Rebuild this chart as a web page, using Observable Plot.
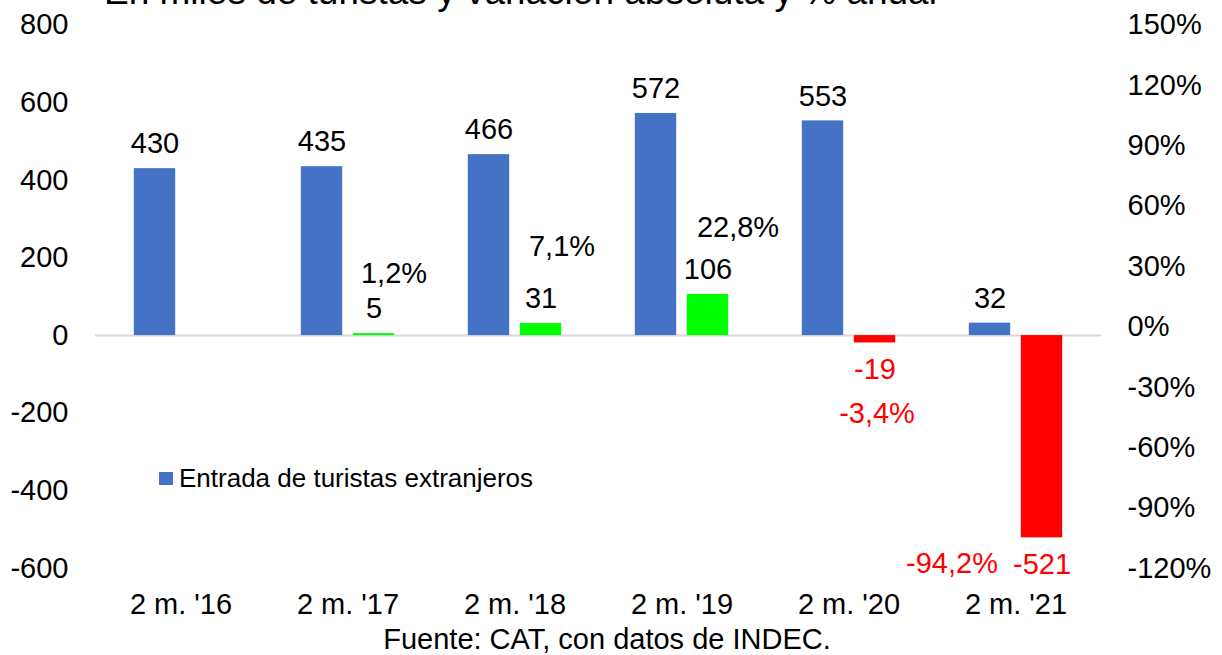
<!DOCTYPE html>
<html>
<head>
<meta charset="utf-8">
<script src="https://cdn.jsdelivr.net/npm/d3@7"></script>
<script src="https://cdn.jsdelivr.net/npm/@observablehq/plot@0.6"></script>
<style>
html, body { margin: 0; padding: 0; background: #fff; overflow: hidden; }
#wrap { position: relative; width: 1222px; height: 655px; font-family: "Liberation Sans", Arial, sans-serif; color: #000; }
#wrap svg { position: absolute; left: 0; top: 0; }
#title { position: absolute; left: 104px; top: -27px; font-size: 37px; line-height: 37px; white-space: nowrap; }
#legend { position: absolute; left: 159px; top: 465px; height: 26px; display: flex; align-items: center; font-size: 26px; line-height: 26px; white-space: nowrap; }
#legend .sw { width: 14px; height: 13px; background: #4472C4; margin-right: 6px; }
#caption { position: absolute; left: 607px; top: 625px; transform: translateX(-50%); font-size: 29px; line-height: 29px; white-space: nowrap; }
</style>
</head>
<body>
<div id="wrap">
  <div id="chart"></div>
  <div id="title">En miles de turistas y variación absoluta y % anual</div>
  <div id="legend"><span class="sw"></span><span>Entrada de turistas extranjeros</span></div>
  <div id="caption">Fuente: CAT, con datos de INDEC.</div>
</div>
<script>
// ---- data ----
const categories = ["2 m. '16", "2 m. '17", "2 m. '18", "2 m. '19", "2 m. '20", "2 m. '21"];
const tourists = [430, 435, 466, 572, 553, 32];
const variation = [null, 5, 31, 106, -19, -521];
const pctLabels = [null, "1,2%", "7,1%", "22,8%", "-3,4%", "-94,2%"];
// where each % label sits (left-axis units) and its horizontal shift
const pctAnchor = [null, 160, 230, 279, -201, -587];
const pctShift = [null, 46, 47, 56, 28, -64];
const leftTicks = [-600, -400, -200, 0, 200, 400, 600, 800];
const rightTicks = [-120, -90, -60, -30, 0, 30, 60, 90, 120, 150];

// ---- derived tables ----
const tData = categories.map((c, i) => ({cat: c, value: tourists[i]}));
const vData = categories.map((c, i) => ({cat: c, value: variation[i]})).filter(d => d.value != null);
const pData = categories.map((c, i) => ({cat: c, label: pctLabels[i], anchor: pctAnchor[i], shift: pctShift[i]})).filter(d => d.label != null);

// right axis (-120%..150%) shares the pixel span of the left axis (-600..800)
const toLeft = v => -600 + (v + 120) * 1400 / 270;
const toRight = u => Math.round((u + 600) * 270 / 1400 - 120);

const FONT = '"Liberation Sans", Arial, sans-serif';
const BLUE = "#4472C4", GREEN = "#00FF00", RED = "#FF0000";

const chart = Plot.plot({
  width: 1222,
  height: 655,
  marginLeft: 95,
  marginRight: 121,
  marginTop: 24.5,
  marginBottom: 87,
  style: {fontFamily: FONT, fontSize: "29px", color: "#000", background: "transparent", overflow: "visible"},
  x: {domain: categories, padding: 0, axis: null},
  y: {domain: [-600, 800], axis: null},
  marks: [
    Plot.ruleY([0], {stroke: "#d9d9d9", strokeWidth: 2}),
    Plot.barY(tData, {x: "cat", y: "value", fill: BLUE, insetLeft: 36.8, insetRight: 88.8}),
    Plot.barY(vData, {x: "cat", y: "value", fill: d => d.value >= 0 ? GREEN : RED, insetLeft: 88.8, insetRight: 36.8}),
    Plot.text(tData, {x: "cat", y: "value", text: d => String(d.value), dx: -26, dy: -24.5, fontSize: 29, fill: "#000"}),
    Plot.text(vData.filter(d => d.value >= 0), {x: "cat", y: "value", text: d => String(d.value), dx: 26, dy: -25, fontSize: 29, fill: "#000"}),
    Plot.text(vData.filter(d => d.value < 0), {x: "cat", y: "value", text: d => String(d.value), dx: 26, dy: 26.5, fontSize: 29, fill: RED}),
    ...pData.map(d => Plot.text([d], {x: "cat", y: "anchor", text: "label", dx: d.shift, fontSize: 29, fill: d.anchor < 0 ? RED : "#000"})),
    Plot.axisY(leftTicks, {anchor: "left", tickSize: 0, tickPadding: 27, fontSize: 29, label: null, tickFormat: d => String(d)}),
    Plot.axisY(rightTicks.map(toLeft), {anchor: "right", tickSize: 0, tickPadding: 26, fontSize: 29, label: null, tickFormat: d => toRight(d) + "%"}),
    Plot.axisX({tickSize: 0, tickPadding: 25, fontSize: 29, label: null})
  ]
});
document.getElementById("chart").appendChild(chart);
</script>
</body>
</html>
